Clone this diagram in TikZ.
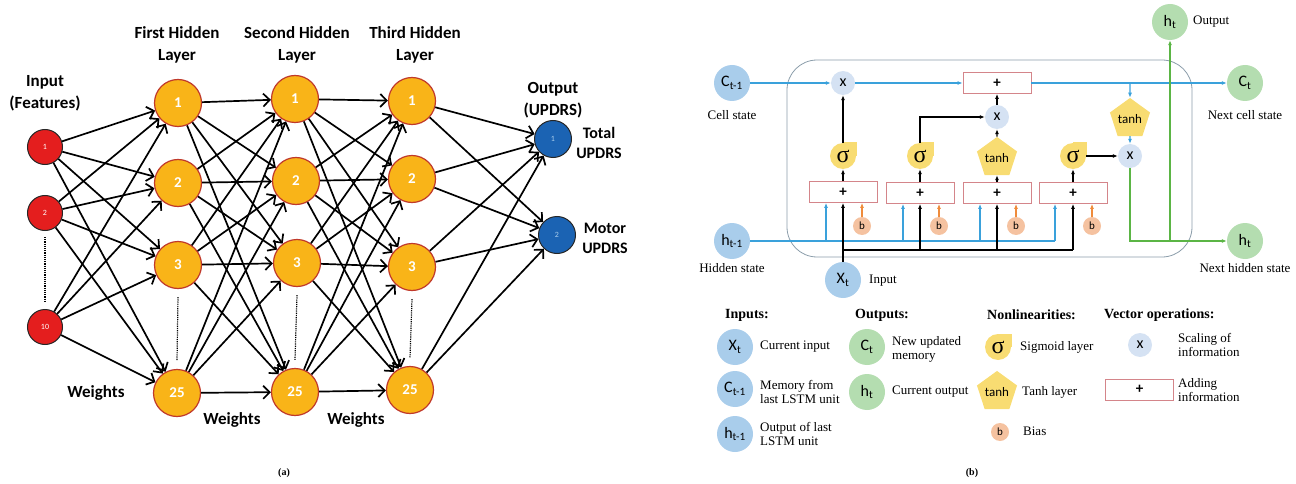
\documentclass[tikz,border=0pt]{standalone}
\usepackage{fontspec}
\setmainfont{Carlito}
\newfontfamily\tnr{Liberation Serif}
\usetikzlibrary{arrows.meta,shapes.geometric}
\definecolor{hidf}{HTML}{F9B418}
\definecolor{hidd}{HTML}{C0392B}
\definecolor{inf}{HTML}{E41E1E}
\definecolor{outf}{HTML}{1B63B3}
\definecolor{lblue}{HTML}{A9CDEB}
\definecolor{lgreen}{HTML}{B4DDB0}
\definecolor{mulc}{HTML}{D5E2F3}
\definecolor{sigc}{HTML}{F8DC72}
\definecolor{biasc}{HTML}{F5C2A0}
\definecolor{boxd}{HTML}{D4858A}
\definecolor{bline}{HTML}{3AA1DB}
\definecolor{gline}{HTML}{5BB545}
\definecolor{oline}{HTML}{EF8B3B}
\definecolor{framec}{HTML}{8B9DAA}
\newcommand\sigshape[3]{%
  \fill[sigc] (#2,#3) circle[radius=13pt];
  \fill[sigc] (#2,#3) rectangle (#2+13.5,#3-13.5);
  \node[sigt] (#1) at (#2,#3) {σ};}
\tikzset{
  hid/.style={circle, fill=hidf, draw=hidd, line width=1.2pt, minimum size=47pt, inner sep=0pt, text=white, font=\bfseries\fontsize{15}{15}\selectfont},
  inp/.style={circle, fill=inf, draw=black!85, line width=1pt, minimum size=35pt, inner sep=0pt, text=white, font=\fontsize{8}{8}\selectfont},
  outn/.style={circle, fill=outf, draw=black!85, line width=1pt, minimum size=37pt, inner sep=0pt, text=lblue, font=\fontsize{8}{8}\selectfont},
  wire/.style={line width=1.7pt, -{Straight Barb[length=6.5pt,width=13pt]}},
  ttl/.style={font=\bfseries\fontsize{17}{22}\selectfont, align=center},
  dotl/.style={densely dotted, line width=1.2pt},
  lin/.style={circle, fill=lblue, minimum size=36pt, inner sep=0pt, font=\fontsize{16}{16}\selectfont},
  lout/.style={circle, fill=lgreen, minimum size=36pt, inner sep=0pt, font=\fontsize{16}{16}\selectfont},
  mul/.style={circle, fill=mulc, minimum size=24pt, inner sep=0pt, font=\fontsize{16}{16}\selectfont},
  sigt/.style={circle, minimum size=26pt, inner sep=0pt, font=\tnr\fontsize{24}{24}\selectfont},
  tanhn/.style={regular polygon, regular polygon sides=5, fill=sigc, minimum size=34pt, inner sep=0pt, font=\fontsize{13}{13}\selectfont},
  addb/.style={rectangle, draw=boxd, line width=0.8pt, fill=white, minimum width=68pt, minimum height=21pt, inner sep=0pt, font=\bfseries\fontsize{15}{15}\selectfont},
  bias/.style={circle, fill=biasc, minimum size=18pt, inner sep=0pt, font=\fontsize{11}{11}\selectfont},
  bl/.style={draw=bline, line width=1.3pt, -{Latex[length=5pt,width=4pt]}},
  blp/.style={draw=bline, line width=1.3pt},
  bk/.style={draw=black, line width=1.4pt, -{Latex[length=5pt,width=4pt]}},
  bkp/.style={draw=black, line width=1.4pt},
  gr/.style={draw=gline, line width=1.5pt, -{Latex[length=5pt,width=4pt]}},
  grp/.style={draw=gline, line width=1.5pt},
  orr/.style={draw=oline, line width=1.3pt, -{Latex[length=5pt,width=4pt]}},
  txt/.style={font=\tnr\fontsize{13}{14}\selectfont, inner sep=0pt},
  txtl/.style={font=\tnr\fontsize{13}{14}\selectfont, inner sep=0pt, anchor=west, align=left},
  head/.style={font=\tnr\bfseries\fontsize{14}{14}\selectfont, inner sep=0pt, anchor=west},
}
\begin{document}
\begin{tikzpicture}[x=1pt,y=-1pt]
\useasboundingbox (0,0) rectangle (1296,484);
% ---------------- panel (a) ----------------
\node[ttl] (tin) at (45,93) {Input\\(Features)};
\node[ttl] (t1) at (177,45) {First Hidden\\Layer};
\node[ttl] (t2) at (297,45) {Second Hidden\\Layer};
\node[ttl] (t3) at (415,45) {Third Hidden\\Layer};
\node[ttl] (tout) at (553,100) {Output\\(UPDRS)};
\node[ttl, font=\bfseries\fontsize{16}{20}\selectfont] (ttot) at (599,143) {Total\\UPDRS};
\node[ttl, font=\bfseries\fontsize{16}{20}\selectfont] (tmot) at (605,238) {Motor\\UPDRS};

\node[inp] (in1) at (45,147) {1};
\node[inp] (in2) at (45,213) {2};
\node[inp] (in10) at (45,327) {10};
\node[hid] (a1) at (178,103) {1};
\node[hid] (a2) at (178,183) {2};
\node[hid] (a3) at (178,265) {3};
\node[hid] (a25) at (177,393) {25};
\node[hid] (b1) at (295,99) {1};
\node[hid] (b2) at (296,181) {2};
\node[hid] (b3) at (297,263) {3};
\node[hid] (b25) at (295,392) {25};
\node[hid] (c1) at (412,101) {1};
\node[hid] (c2) at (412,179) {2};
\node[hid] (c3) at (412,267) {3};
\node[hid] (c25) at (410,390) {25};
\node[outn] (o1) at (553,139) {1};
\node[outn] (o2) at (557,235) {2};

\foreach \s in {in1,in2,in10}{\foreach \t in {a1,a2,a3,a25}{\draw[wire] (\s) -- (\t);}}
\foreach \s in {a1,a2,a3,a25}{\foreach \t in {b1,b2,b3,b25}{\draw[wire] (\s) -- (\t);}}
\foreach \s in {b1,b2,b3,b25}{\foreach \t in {c1,c2,c3,c25}{\draw[wire] (\s) -- (\t);}}
\foreach \s in {c1,c2,c3,c25}{\foreach \t in {o1,o2}{\draw[wire] (\s) -- (\t);}}

\draw[dotl] ([yshift=-6pt]in2.south) -- ([yshift=6pt]in10.north);
\draw[dotl] ([yshift=-8pt]a3.south) -- ([yshift=8pt]a25.north);
\draw[dotl] ([yshift=-8pt]b3.south) -- ([yshift=8pt]b25.north);
\draw[dotl] ([yshift=-8pt]c3.south) -- ([yshift=8pt]c25.north);

\node[ttl] (w1) at (96,393) {Weights};
\node[ttl] (w2) at (232,420) {Weights};
\node[ttl] (w3) at (356,420) {Weights};
\node[font=\tnr\bfseries\fontsize{10}{10}\selectfont] (capa) at (284,473) {(a)};

% ---------------- panel (b) ----------------
\draw[framec, line width=0.8pt, rounded corners=30pt] (787,60) rectangle (1192,257);

\node[lin] (ct1) at (732,83) {C\textsubscript{t-1}};
\node[txt] (lcs) at (732,115) {Cell state};
\node[lin] (ht1) at (732,241) {h\textsubscript{t-1}};
\node[txt] (lhs) at (732,268) {Hidden state};
\node[lin] (xt) at (843,280) {X\textsubscript{t}};
\node[txtl] (lin) at (869,281) {Input};
\node[lout] (ct) at (1245,83) {C\textsubscript{t}};
\node[txt] (lncs) at (1245,115) {Next cell state};
\node[lout] (ht) at (1245,241) {h\textsubscript{t}};
\node[txt] (lnhs) at (1245,268) {Next hidden state};
\node[lout] (hto) at (1170,22) {h\textsubscript{t}};
\node[txtl] (lout) at (1193,22) {Output};

\node[mul] (m1) at (843,83) {x};
\node[addb] (pt) at (997,83) {+};
\node[mul] (m2) at (997,117) {x};
\node[tanhn] (th2) at (1130,119) {tanh};
\node[mul] (m3) at (1130,156) {x};

\sigshape{s1}{843}{156}
\sigshape{s2}{920}{156}
\node[tanhn] (th1) at (997,158) {tanh};
\sigshape{s3}{1073}{156}

\node[addb] (bx1) at (843,192) {+};
\node[addb] (bx2) at (920,193) {+};
\node[addb] (bx3) at (997,193) {+};
\node[addb] (bx4) at (1073,193) {+};

\node[bias] (bi1) at (862,226) {b};
\node[bias] (bi2) at (939,226) {b};
\node[bias] (bi3) at (1016,226) {b};
\node[bias] (bi4) at (1092,226) {b};

% cell state line
\draw[bl] (ct1) -- (m1);
\draw[bl] (m1) -- (pt);
\draw[bl] (pt) -- (ct);
\coordinate (jt) at (1130,83);
\draw[bl] (jt) -- (th2);
\draw[bl] (th2) -- (m3);
% gates
\draw[bk] (s1) -- (m1);
\draw[bk] (s2.north) |- (m2.west);
\draw[bk] (th1) -- (m2);
\draw[bk] (m2) -- (pt);
\draw[bk] (s3) -- (m3);
\draw[bk] (bx1) -- (s1);
\draw[bk] (bx2) -- (s2);
\draw[bk] (bx3) -- (th1);
\draw[bk] (bx4) -- (s3);
% hidden line
\coordinate (hb1) at (826,241);
\coordinate (hb2) at (903,241);
\coordinate (hb3) at (980,241);
\coordinate (hb4) at (1055,241);
\draw[blp] (ht1.east) -- (hb4);
\draw[bl] (hb4) -- (hb4 |- bx4.south);
\draw[bl] (hb1) -- (hb1 |- bx1.south);
\draw[bl] (hb2) -- (hb2 |- bx2.south);
\draw[bl] (hb3) -- (hb3 |- bx3.south);
% input line
\coordinate (xb1) at (843,250);
\coordinate (xb2) at (920,250);
\coordinate (xb3) at (997,250);
\coordinate (xb4) at (1073,250);
\draw[bk] (xt) -- (bx1);
\draw[bkp] (xb1) -- (xb4);
\draw[bk] (xb2) -- (xb2 |- bx2.south);
\draw[bk] (xb3) -- (xb3 |- bx3.south);
\draw[bk] (xb4) -- (xb4 |- bx4.south);
% bias
\draw[orr] (bi1) -- (bi1 |- bx1.south);
\draw[orr] (bi2) -- (bi2 |- bx2.south);
\draw[orr] (bi3) -- (bi3 |- bx3.south);
\draw[orr] (bi4) -- (bi4 |- bx4.south);
% output line
\coordinate (gj) at (1170,241);
\draw[gr] (m3) |- (ht);
\draw[gr] (gj) -- (hto);

% legend
\node[head] (hin) at (725,315) {Inputs:};
\node[head] (hou) at (855,315) {Outputs:};
\node[head] (hnl) at (987,315) {Nonlinearities:};
\node[head] (hvo) at (1104,315) {Vector operations:};

\node[lin] (lg1) at (735,347) {X\textsubscript{t}};
\node[txtl] (lg1t) at (760,347) {Current input};
\node[lin] (lg2) at (735,389) {C\textsubscript{t-1}};
\node[txtl] (lg2t) at (760,392) {Memory from\\last LSTM unit};
\node[lin] (lg3) at (735,434) {h\textsubscript{t-1}};
\node[txtl] (lg3t) at (760,434) {Output of last\\LSTM unit};

\node[lout] (lg4) at (867,347) {C\textsubscript{t}};
\node[txtl] (lg4t) at (892,349) {New updated\\memory};
\node[lout] (lg5) at (867,392) {h\textsubscript{t}};
\node[txtl] (lg5t) at (892,392) {Current output};

\sigshape{lg6}{998}{347}
\node[txtl] (lg6t) at (1020,347) {Sigmoid layer};
\node[tanhn] (lg7) at (997,392) {tanh};
\node[txtl] (lg7t) at (1022,392) {Tanh layer};
\node[bias] (lg8) at (1000,432) {b};
\node[txtl] (lg8t) at (1023,431) {Bias};

\node[mul] (lg9) at (1140,345) {x};
\node[txtl] (lg9t) at (1178,345) {Scaling of\\information};
\node[addb] (lg10) at (1139.5,389.5) {+};
\node[txtl] (lg10t) at (1178,390) {Adding\\information};

\node[font=\tnr\bfseries\fontsize{10}{10}\selectfont] (capb) at (972,473) {(b)};
\end{tikzpicture}
\end{document}
